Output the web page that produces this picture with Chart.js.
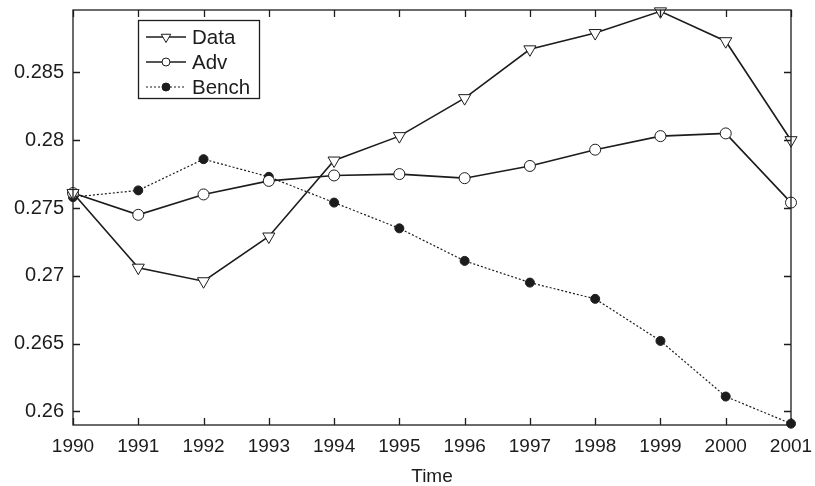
<!DOCTYPE html>
<html>
<head>
<meta charset="utf-8">
<script src="https://cdn.jsdelivr.net/npm/chart.js@4"></script>
<style>
  html, body { margin: 0; padding: 0; background: #fff; }
  #wrap { width: 815px; height: 486px; position: relative; }
</style>
</head>
<body>
<div id="wrap"><canvas id="timeChart"></canvas></div>
<script>
// data
const years = ["1990","1991","1992","1993","1994","1995","1996","1997","1998","1999","2000","2001"];
const dataVals  = [0.2761, 0.2706, 0.2696, 0.2729, 0.2785, 0.2803, 0.2831, 0.2867, 0.2879, 0.2895, 0.2873, 0.2800];
const advVals   = [0.2761, 0.2745, 0.2760, 0.2770, 0.2774, 0.2775, 0.2772, 0.2781, 0.2793, 0.2803, 0.2805, 0.2754];
const benchVals = [0.2758, 0.2763, 0.2786, 0.2773, 0.2754, 0.2735, 0.2711, 0.2695, 0.2683, 0.2652, 0.2611, 0.2591];
const yTicks = [0.26, 0.265, 0.27, 0.275, 0.28, 0.285];

const ink = "#1c1c1c";
const fontFam = "'Liberation Sans', Arial, Helvetica, sans-serif";

// box + inward ticks on all four sides
const frameTicks = {
    id: "frameTicks",
    afterDraw(chart) {
        const { ctx, chartArea: a, scales } = chart;
        const len = 7;
        ctx.save();
        ctx.strokeStyle = ink;
        ctx.lineWidth = 1.3;
        ctx.strokeRect(a.left, a.top, a.right - a.left, a.bottom - a.top);
        ctx.beginPath();
        scales.x.ticks.forEach((t, i) => {
            const px = Math.round(scales.x.getPixelForTick(i)) + 0.5;
            ctx.moveTo(px, a.bottom); ctx.lineTo(px, a.bottom - len);
            ctx.moveTo(px, a.top); ctx.lineTo(px, a.top + len);
        });
        scales.y.ticks.forEach(t => {
            const py = Math.round(scales.y.getPixelForValue(t.value)) + 0.5;
            ctx.moveTo(a.left, py); ctx.lineTo(a.left + len, py);
            ctx.moveTo(a.right, py); ctx.lineTo(a.right - len, py);
        });
        ctx.stroke();
        ctx.restore();
    }
};

// legend box drawn inside the plot, upper left
const boxLegend = {
    id: "boxLegend",
    afterDraw(chart) {
        const ctx = chart.ctx;
        const bx = 138, by = 20, bw = 121, bh = 78;
        ctx.save();
        ctx.fillStyle = "#fff";
        ctx.fillRect(bx, by, bw, bh);
        ctx.strokeStyle = ink;
        ctx.lineWidth = 1.3;
        ctx.strokeRect(bx + 0.5, by + 0.5, bw, bh);
        chart.data.datasets.forEach((ds, i) => {
            const y = 37 + i * 25;
            ctx.strokeStyle = ink;
            ctx.lineWidth = ds.borderWidth;
            ctx.setLineDash(ds.borderDash || []);
            ctx.beginPath();
            ctx.moveTo(146, y); ctx.lineTo(186, y);
            ctx.stroke();
            ctx.setLineDash([]);
            ctx.fillStyle = ds.pointBackgroundColor;
            ctx.lineWidth = 1;
            Chart.helpers.drawPoint(ctx, {
                pointStyle: ds.pointStyle,
                rotation: ds.pointRotation || 0,
                radius: ds.legendRadius,
                borderWidth: 1
            }, 166, y);
            ctx.fillStyle = ink;
            ctx.font = "20.5px " + fontFam;
            ctx.textBaseline = "middle";
            ctx.fillText(ds.label, 192, y + 1);
        });
        ctx.restore();
    }
};

const ctx = document.getElementById("timeChart").getContext("2d");
new Chart(ctx, {
    type: "line",
    data: {
        labels: years,
        datasets: [
            {
                label: "Data",
                data: dataVals,
                borderColor: ink,
                borderWidth: 1.6,
                pointStyle: "triangle",
                pointRotation: 180,
                pointRadius: 7,
                pointBorderWidth: 1,
                pointBorderColor: ink,
                pointBackgroundColor: "#fff",
                legendRadius: 5.5,
                tension: 0,
                clip: false
            },
            {
                label: "Adv",
                data: advVals,
                borderColor: ink,
                borderWidth: 1.6,
                pointStyle: "circle",
                pointRadius: 5.5,
                pointBorderWidth: 1,
                pointBorderColor: ink,
                pointBackgroundColor: "#fff",
                legendRadius: 4,
                tension: 0,
                clip: false
            },
            {
                label: "Bench",
                data: benchVals,
                borderColor: ink,
                borderWidth: 1.2,
                borderDash: [2, 2],
                pointStyle: "circle",
                pointRadius: 4.5,
                pointBorderWidth: 1,
                pointBorderColor: ink,
                pointBackgroundColor: ink,
                legendRadius: 4,
                tension: 0,
                clip: false
            }
        ]
    },
    options: {
        responsive: true,
        maintainAspectRatio: false,
        animation: false,
        events: [],
        layout: { autoPadding: false, padding: { top: 10, right: 24, left: 0, bottom: 0 } },
        plugins: {
            legend: { display: false },
            tooltip: { enabled: false }
        },
        scales: {
            x: {
                offset: false,
                grid: { display: false, drawTicks: false },
                border: { display: false },
                ticks: {
                    color: ink,
                    font: { family: fontFam, size: 19 },
                    padding: 10,
                    maxRotation: 0,
                    autoSkip: false
                },
                title: {
                    display: true,
                    text: "Time",
                    color: ink,
                    font: { family: fontFam, size: 19 },
                    padding: { top: 0, bottom: -2.5 }
                },
                afterFit: (scale) => {
                    scale.height = 61;
                    scale.paddingLeft = 0;
                    scale.paddingRight = 0;
                }
            },
            y: {
                min: 0.259,
                max: 0.2896,
                grid: { display: false, drawTicks: false },
                border: { display: false },
                afterBuildTicks: (scale) => {
                    scale.ticks = yTicks.map(v => ({ value: v }));
                },
                ticks: {
                    color: ink,
                    font: { family: fontFam, size: 20 },
                    padding: 9,
                    callback: (val) => String(+val.toFixed(3))
                },
                afterFit: (scale) => {
                    scale.width = 73;
                    scale.paddingTop = 0;
                    scale.paddingBottom = 0;
                }
            }
        }
    },
    plugins: [frameTicks, boxLegend]
});
</script>
</body>
</html>
